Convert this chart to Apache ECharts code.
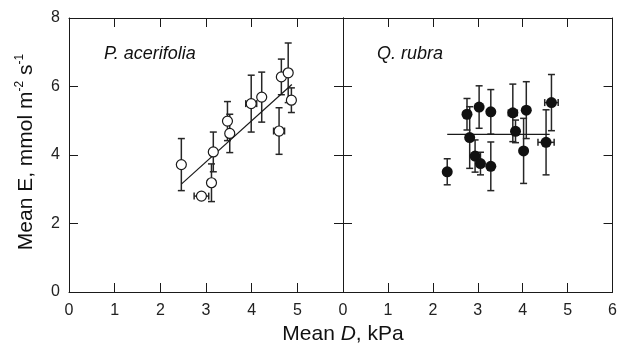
<!DOCTYPE html>
<html lang="en">
<head>
    <meta charset="UTF-8">
    <title>Mean E vs Mean D</title>
    <style>
        html, body { margin: 0; padding: 0; background: #fff; }
        #chart { width: 620px; height: 346px; }
    </style>
</head>
<body>
    <div id="chart"></div>
    <script src="https://cdn.jsdelivr.net/npm/echarts@6/dist/echarts.min.js"></script>
    <script>
        // P. acerifolia (open circles)
        var pX    = [2.46, 2.90, 3.12, 3.16, 3.47, 3.52, 3.99, 4.22, 4.60, 4.65, 4.80, 4.87];
        var pY    = [3.72, 2.80, 3.19, 4.09, 4.99, 4.63, 5.50, 5.69, 4.70, 6.28, 6.40, 5.60];
        var pErrY = [0.76, 0.00, 0.55, 0.58, 0.57, 0.56, 0.83, 0.73, 0.68, 0.52, 0.87, 0.36];
        var pErrX = [0.00, 0.16, 0.07, 0.00, 0.00, 0.00, 0.12, 0.00, 0.12, 0.00, 0.00, 0.05];
        var pFitX = [2.46, 4.88];
        var pFitY = [3.15, 6.06];

        // Q. rubra (filled circles)
        var qX    = [2.32, 2.76, 2.82, 2.94, 3.03, 3.06, 3.29, 3.29, 3.78, 3.84, 4.02, 4.08, 4.52, 4.64];
        var qY    = [3.51, 5.19, 4.51, 3.97, 5.40, 3.75, 5.26, 3.67, 5.23, 4.69, 4.12, 5.31, 4.37, 5.53];
        var qErrY = [0.38, 0.46, 0.90, 0.47, 0.62, 0.33, 0.65, 0.71, 0.84, 0.33, 0.95, 0.83, 0.95, 0.82];
        var qErrX = [0.00, 0.00, 0.00, 0.00, 0.00, 0.00, 0.00, 0.00, 0.10, 0.00, 0.00, 0.00, 0.18, 0.15];
        var qFitX = [2.32, 4.60];
        var qFitY = [4.60, 4.60];

        var chart = echarts.init(document.getElementById('chart'));
        var ink = '#1a1a1a';
        var font = '"Liberation Sans", Arial, sans-serif';

        function zip(a, b, c, d) {
            return a.map(function (v, i) { return [v, b[i], c[i], d[i]]; });
        }

        // error bars with caps
        function errBars(params, api) {
            var x = api.value(0), y = api.value(1), dy = api.value(2), dx = api.value(3);
            var cap = 3.5;
            var kids = [];
            var st = { stroke: '#262626', lineWidth: 1.5 };
            if (dy > 0) {
                var t = api.coord([x, y + dy]), b = api.coord([x, y - dy]);
                kids.push({ type: 'line', shape: { x1: t[0], y1: t[1], x2: b[0], y2: b[1] }, style: st });
                kids.push({ type: 'line', shape: { x1: t[0] - cap, y1: t[1], x2: t[0] + cap, y2: t[1] }, style: st });
                kids.push({ type: 'line', shape: { x1: b[0] - cap, y1: b[1], x2: b[0] + cap, y2: b[1] }, style: st });
            }
            if (dx > 0) {
                var l = api.coord([x - dx, y]), r = api.coord([x + dx, y]);
                kids.push({ type: 'line', shape: { x1: l[0], y1: l[1], x2: r[0], y2: r[1] }, style: st });
                kids.push({ type: 'line', shape: { x1: l[0], y1: l[1] - cap, x2: l[0], y2: l[1] + cap }, style: st });
                kids.push({ type: 'line', shape: { x1: r[0], y1: r[1] - cap, x2: r[0], y2: r[1] + cap }, style: st });
            }
            return { type: 'group', children: kids };
        }

        function xAx(grid, pos, labels, hideMax) {
            return {
                type: 'value', gridIndex: grid, position: pos, min: 0, max: 6, interval: 1,
                axisLine: { show: true, onZero: false, lineStyle: { color: ink, width: 1 } },
                axisTick: { show: true, inside: true, length: 9, lineStyle: { color: ink } },
                axisLabel: { show: labels, margin: 11, showMaxLabel: !hideMax, color: '#222', fontSize: 16, fontFamily: font },
                splitLine: { show: false }
            };
        }
        function yAx(grid, pos, labels) {
            return {
                type: 'value', gridIndex: grid, position: pos, min: 0, max: 8, interval: 2,
                axisLine: { show: true, onZero: false, lineStyle: { color: ink, width: 1 } },
                axisTick: { show: true, inside: true, length: 9, lineStyle: { color: ink } },
                axisLabel: { show: labels, margin: 9, color: '#222', fontSize: 16, fontFamily: font },
                splitLine: { show: false }
            };
        }

        var option = {
            backgroundColor: '#fff',
            animation: false,
            grid: [
                { left: 69, top: 18, width: 274, height: 274 },
                { left: 343, top: 18, width: 273, height: 274 }
            ],
            xAxis: [
                xAx(0, 'bottom', true, true),
                xAx(0, 'top', false),
                xAx(1, 'bottom', true, false),
                xAx(1, 'top', false)
            ],
            yAxis: [
                yAx(0, 'left', true),
                yAx(0, 'right', false),
                yAx(1, 'left', false),
                yAx(1, 'right', false)
            ],
            graphic: [
                {
                    type: 'text', left: 104, top: 45,
                    style: { text: 'P. acerifolia', font: 'italic 18px ' + font, fill: '#111' }
                },
                {
                    type: 'text', left: 377, top: 45,
                    style: { text: 'Q. rubra', font: 'italic 18px ' + font, fill: '#111' }
                },
                {
                    type: 'text', x: 343, y: 334,
                    style: {
                        text: '{a|Mean }{i|D}{a|, kPa}',
                        align: 'center', verticalAlign: 'middle',
                        rich: {
                            a: { fontSize: 21, fontFamily: font, fill: '#111' },
                            i: { fontSize: 21, fontFamily: font, fontStyle: 'italic', fill: '#111' }
                        }
                    }
                },
                {
                    type: 'text', x: 26, y: 152, rotation: Math.PI / 2,
                    style: {
                        text: '{a|Mean E, mmol m}{s|-2}{a| s}{s|-1}',
                        align: 'center', verticalAlign: 'middle',
                        rich: {
                            a: { fontSize: 21, fontFamily: font, fill: '#111', lineHeight: 24 },
                            s: { fontSize: 12, fontFamily: font, fill: '#111', verticalAlign: 'top', lineHeight: 12 }
                        }
                    }
                }
            ],
            series: [
                {
                    type: 'line', xAxisIndex: 0, yAxisIndex: 0, symbol: 'none',
                    data: pFitX.map(function (v, i) { return [v, pFitY[i]]; }),
                    lineStyle: { color: ink, width: 1.2 }
                },
                {
                    type: 'custom', xAxisIndex: 0, yAxisIndex: 0, renderItem: errBars,
                    data: zip(pX, pY, pErrY, pErrX), encode: { x: 0, y: 1 }, z: 3
                },
                {
                    type: 'scatter', xAxisIndex: 0, yAxisIndex: 0, symbol: 'circle', symbolSize: 10,
                    data: pX.map(function (v, i) { return [v, pY[i]]; }),
                    itemStyle: { color: '#fff', borderColor: ink, borderWidth: 1.2, opacity: 1 }, z: 4
                },
                {
                    type: 'line', xAxisIndex: 2, yAxisIndex: 2, symbol: 'none',
                    data: qFitX.map(function (v, i) { return [v, qFitY[i]]; }),
                    lineStyle: { color: ink, width: 1.2 }
                },
                {
                    type: 'custom', xAxisIndex: 2, yAxisIndex: 2, renderItem: errBars,
                    data: zip(qX, qY, qErrY, qErrX), encode: { x: 0, y: 1 }, z: 3
                },
                {
                    type: 'scatter', xAxisIndex: 2, yAxisIndex: 2, symbol: 'circle', symbolSize: 11,
                    data: qX.map(function (v, i) { return [v, qY[i]]; }),
                    itemStyle: { color: '#111', borderColor: '#111', borderWidth: 0, opacity: 1 }, z: 4
                }
            ]
        };

        chart.setOption(option);
    </script>
</body>
</html>
